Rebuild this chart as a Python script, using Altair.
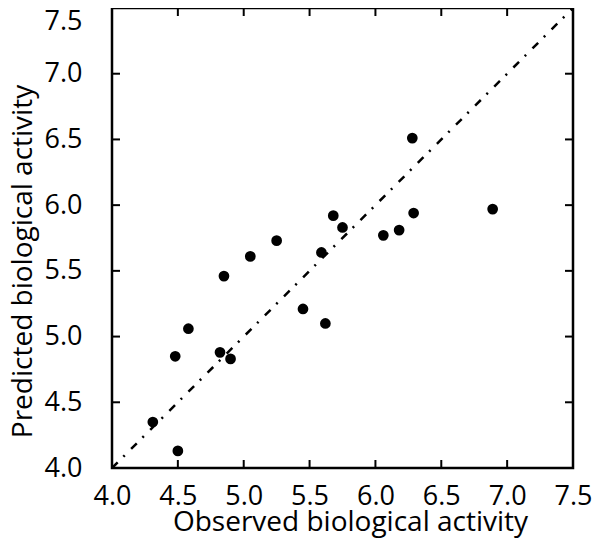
import altair as alt
import pandas as pd

# Observed vs predicted biological activity
observed = [4.31, 4.50, 4.48, 4.58, 4.82, 4.90, 4.85, 5.05, 5.25, 5.45,
            5.59, 5.62, 5.68, 5.75, 6.06, 6.18, 6.28, 6.29, 6.89]
predicted = [4.35, 4.13, 4.85, 5.06, 4.88, 4.83, 5.46, 5.61, 5.73, 5.21,
             5.64, 5.10, 5.92, 5.83, 5.77, 5.81, 6.51, 5.94, 5.97]

tick_labels = [4.0, 4.5, 5.0, 5.5, 6.0, 6.5, 7.0, 7.5]
inner_ticks = [4.5, 5.0, 5.5, 6.0, 6.5, 7.0]
diag_ends = [4.0, 7.5]

FONT = "Open Sans"
LFS = 27
TFS = 28

df = pd.DataFrame({"obs": observed, "pred": predicted})
diag = pd.DataFrame({"obs": diag_ends, "pred": diag_ends})
tx = pd.DataFrame({"obs": inner_ticks})
ty = pd.DataFrame({"pred": inner_ticks})

xs = alt.Scale(domain=[4.0, 7.5], nice=False, zero=False)
ys = alt.Scale(domain=[4.0, 7.5], nice=False, zero=False)

xaxis = alt.Axis(
    title="Observed biological activity", values=tick_labels, format=".1f",
    ticks=False, domain=False, grid=False, labelPadding=15, labelFlush=False,
    labelFont=FONT, labelFontSize=LFS, titleFont=FONT, titleFontSize=TFS,
    titleFontWeight="normal", labelColor="black", titleColor="black",
    titleX=238, titleY=62, titleBaseline="alphabetic",
)
yaxis = alt.Axis(
    title="Predicted biological activity", values=tick_labels, format=".1f",
    ticks=False, domain=False, grid=False, labelPadding=30, labelFlush=False,
    labelBaseline=alt.condition("datum.value == 7.5", alt.value("top"), alt.value("middle")),
    labelFont=FONT, labelFontSize=LFS, titleFont=FONT, titleFontSize=TFS,
    titleFontWeight="normal", labelColor="black", titleColor="black",
    titleX=-81, titleY=253, titleBaseline="alphabetic", titleAngle=270,
)

X = alt.X("obs:Q", scale=xs, axis=xaxis)
Y = alt.Y("pred:Q", scale=ys, axis=yaxis)

line = alt.Chart(diag).mark_line(
    color="black", strokeWidth=2.5, strokeDash=[8, 8, 2, 9]
).encode(x=X, y=Y)

t_bottom = alt.Chart(tx).mark_tick(
    orient="vertical", size=8, thickness=2, color="black", yOffset=-4, opacity=1
).encode(x=X, y=alt.YDatum(4.0, type="quantitative", scale=ys))
t_top = alt.Chart(tx).mark_tick(
    orient="vertical", size=8, thickness=2, color="black", yOffset=4, opacity=1
).encode(x=X, y=alt.YDatum(7.5, type="quantitative", scale=ys))
t_left = alt.Chart(ty).mark_tick(
    orient="horizontal", size=8, thickness=2, color="black", xOffset=4, opacity=1
).encode(y=Y, x=alt.XDatum(4.0, type="quantitative", scale=xs))
t_right = alt.Chart(ty).mark_tick(
    orient="horizontal", size=8, thickness=2, color="black", xOffset=-4, opacity=1
).encode(y=Y, x=alt.XDatum(7.5, type="quantitative", scale=xs))

points = alt.Chart(df).mark_point(
    filled=True, size=115, color="black", opacity=1
).encode(x=X, y=Y)

chart = alt.layer(line, t_bottom, t_top, t_left, t_right, points).properties(
    width=461,
    height=460,
    autosize=alt.AutoSizeParams(type="none"),
    padding={"left": 104, "top": 0, "right": 19, "bottom": 70},
).configure_view(stroke="black", strokeWidth=2.5)

chart.save("out.html", embed_options={"renderer": "svg", "actions": False})
